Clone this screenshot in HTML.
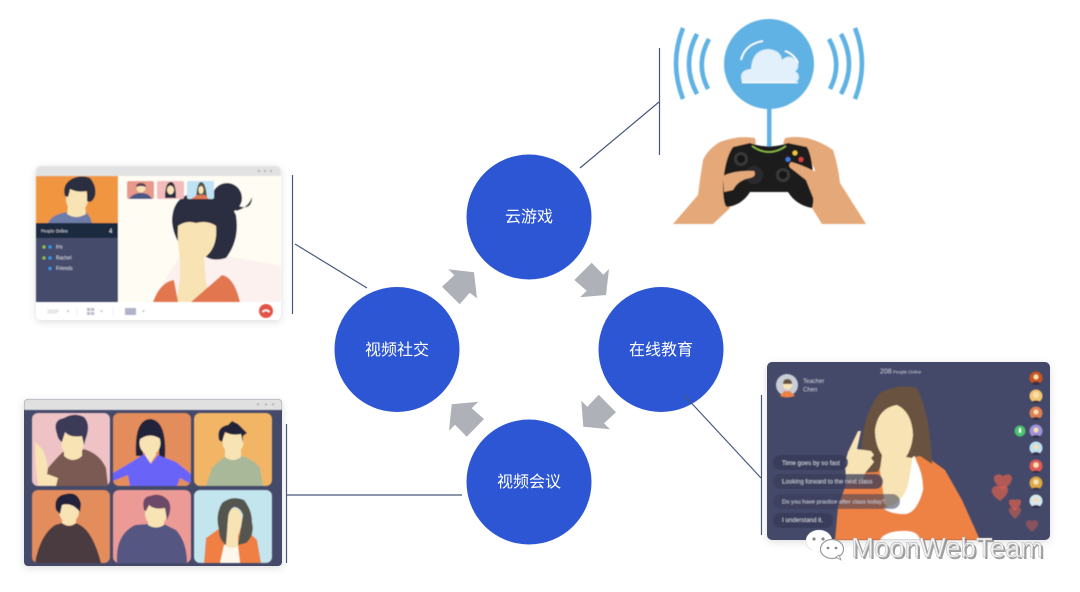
<!DOCTYPE html>
<html lang="zh">
<head>
<meta charset="utf-8">
<title>视频社交 云游戏 在线教育 视频会议</title>
<style>
html,body{margin:0;padding:0;background:#fff;width:1080px;height:592px;overflow:hidden}
svg{display:block}
text{font-family:"Liberation Sans","Noto Sans CJK SC",sans-serif}
.c{font-family:"Liberation Sans","Noto Sans CJK SC",sans-serif;font-size:16px;fill:#fff;text-anchor:middle}
</style>
</head>
<body>
<svg width="1080" height="592" viewBox="0 0 1080 592" xmlns="http://www.w3.org/2000/svg">
<defs>
<filter id="b" x="-5%" y="-5%" width="110%" height="110%"><feGaussianBlur stdDeviation="0.5"/></filter>
<filter id="s" x="-10%" y="-10%" width="120%" height="120%"><feDropShadow dx="0" dy="2" stdDeviation="4" flood-color="#000" flood-opacity=".13"/></filter>
<clipPath id="w1"><rect x="118" y="176" width="163" height="126"/></clipPath>
<clipPath id="w1l"><rect x="36" y="176" width="82" height="47"/></clipPath>
<clipPath id="w3"><rect x="767" y="362" width="283" height="178" rx="5"/></clipPath>
<clipPath id="t1"><rect x="32" y="413" width="78" height="73" rx="6"/></clipPath>
<clipPath id="t2"><rect x="113" y="413" width="78" height="73" rx="6"/></clipPath>
<clipPath id="t3"><rect x="194" y="413" width="78" height="73" rx="6"/></clipPath>
<clipPath id="t4"><rect x="32" y="490" width="78" height="73" rx="6"/></clipPath>
<clipPath id="t5"><rect x="113" y="490" width="78" height="73" rx="6"/></clipPath>
<clipPath id="t6"><rect x="194" y="490" width="78" height="73" rx="6"/></clipPath>
</defs>

<!-- connectors -->
<g fill="none" stroke="#46597c" stroke-width="1.2">
<path d="M292.500 175V314"/>
<path d="M295 244L367 288"/>
<path d="M286.500 424V563"/>
<path d="M287 495H462"/>
<path d="M659.500 48V155"/>
<path d="M580 168L659 102"/>
<path d="M761.500 395V535"/>
</g>

<!-- hub circles -->
<circle cx="529" cy="217" r="62.500" fill="#2c56d3"/>
<circle cx="661" cy="349.500" r="62.500" fill="#2c56d3"/>
<circle cx="529" cy="482" r="62.500" fill="#2c56d3"/>
<circle cx="397" cy="349.500" r="62.500" fill="#2c56d3"/>
<text class="c" x="529" y="222">云游戏</text>
<text class="c" x="661" y="355">在线教育</text>
<text class="c" x="529" y="487">视频会议</text>
<text class="c" x="397" y="355">视频社交</text>
<path d="M684 395L761 478" fill="none" stroke="#46597c" stroke-width="1.200"/>

<!-- arrows -->
<g fill="#aeb1b7">
<polygon points="448.300,269.300 474,272.300 477,298.300 469.700,292.700 459.700,304.300 442,286.700 454.300,275.300"/>
<polygon points="591.700,262.700 603.300,274.700 609,269 606,295 580,297.300 586.700,290.700 574.300,280"/>
<polygon points="598.700,394.700 616,412.300 604,423.300 610,429.300 583.300,426.700 581.300,400.700 587.300,406.700"/>
<polygon points="451.700,404.300 478.300,401.700 471.700,408.300 484,419 466.700,436.700 455,424.700 449,430.700"/>
</g>

<!-- window 1: video social -->
<g filter="url(#s)"><rect x="36" y="166" width="245" height="154" rx="5" fill="#fff"/></g>
<g filter="url(#b)">
<path d="M36 176v-5a5 5 0 0 1 5-5h235a5 5 0 0 1 5 5v5z" fill="#e2e2e2"/>
<g fill="#b5b5b5"><circle cx="259" cy="171" r="1.200"/><circle cx="265" cy="171" r="1.200"/><circle cx="271" cy="171" r="1.200"/></g>
<rect x="36" y="176" width="82" height="47" fill="#f0953f"/>
<rect x="36" y="223" width="82" height="15" fill="#1f2a40"/>
<rect x="36" y="238" width="82" height="64" fill="#454b6b"/>
<rect x="118" y="176" width="163" height="126" fill="#fffcf4"/>
<g clip-path="url(#w1l)">
<path d="M48 223Q52 214 68 212L86 212Q90 216 92 223Z" fill="#6d7ba8"/>
<path d="M68 205H85L86 214Q76 220 67 214Z" fill="#f8e3b4"/>
<ellipse cx="77" cy="199" rx="11" ry="13" fill="#f8e3b4"/>
<path d="M65 196Q62 186 70 180Q80 174 90 178Q97 186 95 196Q92 204 87 201L87 191Q78 193 70 189Q69 194 68 197Z" fill="#2a2d3f"/>
</g>
<text x="41" y="232.500" font-size="4.300" fill="#d9dce6">People Online</text>
<text x="109" y="233" font-size="6" fill="#e8e8ee">4</text>
<g font-size="5" fill="#d9dce6"><text x="56" y="248.500">Iris</text><text x="56" y="259.500">Rachel</text><text x="56" y="270">Friends</text></g>
<g fill="#8fc04a"><circle cx="44" cy="247" r="1.600"/><circle cx="44" cy="258" r="1.600"/></g>
<g fill="#2d9bf0"><circle cx="50" cy="247" r="1.600"/><circle cx="50" cy="258" r="1.600"/><circle cx="50" cy="268.500" r="1.600"/></g>
<g clip-path="url(#w1)">
<polygon points="165,280 185,248 281,266 281,302 160,302" fill="#fcf1ee"/>
<circle cx="227" cy="198" r="15" fill="#2c2d40"/>
<path d="M172 222Q172 196 195 193Q225 190 236 215Q240 240 226 258Q212 262 205 256L213 230Q180 222 181 236L184 248Q174 240 172 222Z" fill="#2c2d40"/>
<path d="M236 205Q252 212 252 197Q248 208 236 211Z" fill="#2c2d40"/>
<path d="M178 226Q186 220 196 223Q208 220 216 226Q218 248 204 258L206 282L212 302H176L180 280V259Q177 240 178 226Z" fill="#f8e3b4"/>
<path d="M153 302Q160 282 174 280L178 302Z" fill="#e27750"/>
<path d="M191 302L222 275Q234 277 240 302Z" fill="#e27750"/>
<rect x="127" y="181" width="27" height="18" rx="2" fill="#e89a8a"/>
<rect x="157" y="181" width="27" height="18" rx="2" fill="#f3bcbc"/>
<rect x="187" y="181" width="27" height="18" rx="2" fill="#bfe3f5"/>
<path d="M129 199Q133 193 141 193Q149 193 152 199Z" fill="#4e5a86"/>
<circle cx="141" cy="188" r="4.500" fill="#f8e3b4"/><path d="M136 187Q136 183 141 183Q146 183 146 187Q141 185 136 187Z" fill="#5b3d56"/>
<path d="M165 198Q165 182 171 182Q176 182 176 198Z" fill="#2c2d40"/><ellipse cx="170.500" cy="190" rx="3.500" ry="4.500" fill="#f8e3b4"/>
<path d="M196 199Q197 182 201 182Q206 182 207 199Z" fill="#54524e"/><ellipse cx="201" cy="190" rx="2.500" ry="4" fill="#f8e3b4"/><path d="M191 199L197 195H205L209 199Z" fill="#e27750"/>
</g>
<text x="47" y="313.500" font-size="5" fill="#bdbdbd">360P</text>
<path d="M66.500 310.500h3l-1.500 2z" fill="#bbb"/>
<g fill="#b9bccb"><rect x="87" y="308" width="3.200" height="3"/><rect x="91" y="308" width="3.200" height="3"/><rect x="87" y="312" width="3.200" height="3"/><rect x="91" y="312" width="3.200" height="3"/></g>
<path d="M100 310.500h3l-1.500 2z" fill="#bbb"/>
<rect x="125" y="308" width="11" height="7" fill="#b0b3c7"/>
<path d="M142 310.500h3l-1.500 2z" fill="#bbb"/>
<path d="M77 307V316M113 307V316" stroke="#f0f0f0"/>
<circle cx="266" cy="311" r="7" fill="#e25344"/>
<path d="M262.500 312Q266 308.500 269.500 312" fill="none" stroke="#fff" stroke-width="1.600"/>
</g>

<!-- window 2: video conference -->
<g filter="url(#s)"><rect x="24" y="399" width="258" height="167" rx="4" fill="#444a6b"/></g>
<g filter="url(#b)">
<path d="M24 410v-7a4 4 0 0 1 4-4h250a4 4 0 0 1 4 4v7z" fill="#e0e0e0"/>
<g fill="#b5b5b5"><circle cx="258" cy="404.500" r="1.200"/><circle cx="266" cy="404.500" r="1.200"/><circle cx="273" cy="404.500" r="1.200"/></g>
<rect x="32" y="413" width="78" height="73" rx="6" fill="#efc3c6"/>
<rect x="113" y="413" width="78" height="73" rx="6" fill="#e38c5c"/>
<rect x="194" y="413" width="78" height="73" rx="6" fill="#f2b565"/>
<rect x="32" y="490" width="78" height="73" rx="6" fill="#e38c5c"/>
<rect x="113" y="490" width="78" height="73" rx="6" fill="#ec9a96"/>
<rect x="194" y="490" width="78" height="73" rx="6" fill="#c2e5ee"/>
<g clip-path="url(#t1)">
<path d="M45 486L48 468Q58 456 66 449Q74 455 84 449Q100 454 106 468L108 486Z" fill="#7a5a52"/>
<path d="M35 442L43 450Q49 464 47 474L58 478L56 486H38Q35 465 35 442Z" fill="#f8e3b4"/>
<path d="M64 448H82V456Q73 464 64 456Z" fill="#f8e3b4"/>
<ellipse cx="72.500" cy="444" rx="11" ry="13.500" fill="#f8e3b4"/>
<path d="M57 434Q52 420 64 418Q74 412 84 417Q91 424 86 438L84 445L82 436Q70 438 65 432L62 442Q58 440 57 434Z" fill="#3a3a58"/>
</g>
<g clip-path="url(#t2)">
<path d="M136 456Q134 420 150 419Q167 420 165 458H159V445H143V456Z" fill="#23243a"/>
<path d="M145 445H156V455L150 464L145 455Z" fill="#f8e3b4"/>
<ellipse cx="150" cy="443" rx="10.500" ry="12" fill="#f8e3b4"/>
<path d="M139 440Q138 423 150 421Q163 423 162 440Q150 431 139 440Z" fill="#23243a"/>
<path d="M113 473L135 460L144 454L151 464L158 455L176 462L191 474V484L180 478L177 486H130L128 475L113 481Z" fill="#6a64f8"/>
</g>
<g clip-path="url(#t3)">
<path d="M206 486L212 468Q222 458 228 455Q234 460 240 455Q255 460 260 468L263 486Z" fill="#a9b898"/>
<path d="M225 448H241V457Q233 463 225 457Z" fill="#f8e3b4"/>
<ellipse cx="233" cy="442" rx="10.500" ry="12" fill="#f8e3b4"/>
<path d="M219 440Q216 427 228 425L232 421L238 424L247 433L243 436L243 443L241 434Q232 436 225 432L222 442Z" fill="#23243a"/>
</g>
<g clip-path="url(#t4)">
<path d="M35 563Q40 535 55 525L62 523Q69 529 76 523L80 525Q93 532 101 563Z" fill="#4a3b40"/>
<path d="M62 516H76V523Q69 528 62 523Z" fill="#f8e3b4"/>
<ellipse cx="69" cy="511" rx="10" ry="12" fill="#f8e3b4"/>
<path d="M56 510Q53 496 66 494Q78 491 81 504L80 512Q72 502 62 505L60 514Z" fill="#23243a"/>
</g>
<g clip-path="url(#t5)">
<path d="M117 563Q115 535 135 525L148 524Q156 530 164 524L176 530Q187 542 187 563Z" fill="#555781"/>
<path d="M148 518H164V525Q156 530 148 525Z" fill="#f8e3b4"/>
<ellipse cx="156" cy="514" rx="11" ry="11.500" fill="#f8e3b4"/>
<path d="M144 510Q141 497 150 496Q160 492 168 500Q173 508 167 520L165 508Q154 510 149 505L146 511Z" fill="#6c4a68"/>
</g>
<g clip-path="url(#t6)">
<path d="M204 563L206 538L220 528H245L257 540L261 563Z" fill="#ef7f42"/>
<path d="M220 563L224 545H238L240 563Z" fill="#fdf8ec"/>
<path d="M219 530Q215 515 222 503Q232 495 244 500Q252 510 252 522Q255 535 246 543L238 545L243 515Q240 507 234 507Q228 510 228 520L226 545Q219 540 219 530Z" fill="#55544f"/>
<path d="M228 520Q229 508 235 508Q242 510 242 520Q240 532 238 536V546Q232 550 226 546Z" fill="#f8e3b4"/>
</g>
</g>

<!-- cloud gaming -->
<g filter="url(#b)">
<g fill="none" stroke="#5fb2e3" stroke-width="4.600">
<path d="M683 28Q669 63 683 99"/><path d="M697 34Q681 64 697 94"/><path d="M709 39Q695 64 708 89"/>
<path d="M855 28Q869 63 855 99"/><path d="M841 34Q857 64 841 94"/><path d="M829 39Q843 64 830 89"/>
</g>
<rect x="767" y="105" width="4.500" height="42" fill="#5fb2e3"/>
<circle cx="769" cy="64" r="45" fill="#5fb2e3"/>
<path d="M742 82Q738 70 751 69Q752 50 768 49Q781 50 782 60Q790 52 798 63Q799 70 795 71Q799 73 799 78Q798 82 793 82Z" fill="#e1f0fa"/>
<path d="M742 82.500H798" stroke="#fff" stroke-width="1.600"/>
<path d="M741 60Q745 44 763 41M785 51Q794 54 798 63" fill="none" stroke="#fff" stroke-width="1.800"/>
<path d="M673 224L698 195Q700 178 703 160Q708 149 720 142Q738 135 755 138L756 144L735 148L726 170L730 208L713 224Z" fill="#e5a878"/>
<path d="M866 224L840 183Q838 165 833 150Q822 142 807 138Q795 136 785 138L783 144L804 148L815 170L812 208L822 224Z" fill="#e5a878"/>
<path d="M750 143Q769 150 788 143L807 147Q814 160 813 190Q814 204 812 208Q796 205 788 192H750Q742 205 727 207Q723 205 723 184Q725 158 733 147Z" fill="#1d1d1f"/>
<path d="M752 146Q769 158 786 146" fill="none" stroke="#8fc04a" stroke-width="1.500"/>
<circle cx="741" cy="159" r="7" fill="#38383a"/><circle cx="741" cy="159" r="4" fill="#171718"/>
<circle cx="783" cy="175" r="7" fill="#38383a"/><circle cx="783" cy="175" r="4" fill="#171718"/>
<circle cx="754" cy="175" r="9" fill="#2b2b2d"/>
<circle cx="795" cy="153" r="2.500" fill="#f2c53d"/><circle cx="788" cy="159.500" r="2.500" fill="#3f78d8"/><circle cx="801" cy="159.500" r="2.500" fill="#d8433a"/>
<path d="M723 176Q735 170 754 171Q757 176 750 178Q738 180 733 190L724 192Z" fill="#e5a878"/>
<path d="M816 172Q800 164 791 162Q787 166 792 169L806 180L814 200Z" fill="#e5a878"/>
</g>

<!-- window 3: online education -->
<g filter="url(#s)"><rect x="767" y="362" width="283" height="178" rx="5" fill="#454a69"/></g>
<g filter="url(#b)">
<g clip-path="url(#w3)">
<path d="M835 540L838 507L850 473L884 466L920 452L945 470L962 500L980 540Z" fill="#ee8244"/>
<path d="M863 435Q866 410 880 393Q900 383 917 388Q928 412 930 440Q932 455 932 464L920 456L912 458H884L878 472L862 473Q860 452 863 435Z" fill="#69523f"/>
<path d="M875 430Q878 408 897 405Q912 412 913 435Q912 448 906 457L912 458L915 456L922 480L916 495Q905 516 893 512L885 505L880 470L882 455Q875 445 875 430Z" fill="#f8e3b4"/>
<path d="M913 456Q923 470 923 490Q917 512 906 514Q890 514 883 508Q902 505 908 485Z" fill="#fff"/>
<path d="M858 431L861 431L857 449L871 451L874 455L871 458L874 462L865 473L863 480L846 480L845 463L848 452Z" fill="#f8e3b4"/>
<path d="M880 540Q885 531 905 531Q918 531 920 540Z" fill="#fff"/>
</g>
<text x="880" y="373.500" font-size="7" fill="#d5d7e2">208</text>
<text x="893" y="373.500" font-size="4.500" fill="#d5d7e2">People Online</text>
<circle cx="787" cy="385" r="11" fill="#c9ced6"/>
<path d="M780 396L784 391H790L795 396Q787 399 780 396Z" fill="#ee8244"/>
<circle cx="787.500" cy="385" r="4.500" fill="#f8e3b4"/><path d="M783 384Q783 379 787.500 379Q792 379 792 384Z" fill="#69523f"/>
<text x="803" y="383" font-size="6" fill="#d5d7e2">Teacher</text>
<text x="803" y="391.500" font-size="6" fill="#d5d7e2">Chen</text>
<rect x="773" y="455" width="75" height="15" rx="7.500" fill="#383c5a" fill-opacity=".9"/>
<rect x="773" y="474" width="110" height="15" rx="7.500" fill="#383c5a" fill-opacity=".75"/>
<rect x="773" y="494" width="127" height="15" rx="7.500" fill="#383c5a" fill-opacity=".55"/>
<rect x="773" y="513" width="60" height="15" rx="7.500" fill="#383c5a" fill-opacity=".9"/>
<g font-size="5.900" fill="#cfd2dd">
<text x="782" y="465" font-size="6.300">Time goes by so fast</text>
<text x="782" y="483.500" font-size="6.200">Looking forward to the next class</text>
<text x="782" y="503.500">Do you have practice after class today?</text>
<text x="782" y="522" font-size="6.200">I understand it.</text>
</g>
<g>
<circle cx="1036" cy="378" r="6.500" fill="#c9561f"/><circle cx="1036" cy="396" r="6.500" fill="#f2c572"/><circle cx="1036" cy="413" r="6.500" fill="#dd7f52"/><circle cx="1036" cy="431" r="6.500" fill="#a092d8"/><circle cx="1036" cy="448" r="6.500" fill="#bfe0ee"/><circle cx="1036" cy="466" r="6.500" fill="#de5c54"/><circle cx="1036" cy="483" r="6.500" fill="#dca744"/><circle cx="1036" cy="501" r="6.500" fill="#d5e8f0"/>
</g>
<g fill="#f6dfb0">
<circle cx="1036" cy="377" r="2.500"/><circle cx="1036" cy="395" r="3"/><circle cx="1036" cy="412" r="2.500"/><circle cx="1036" cy="430" r="2.500"/><circle cx="1036" cy="447" r="2.500"/><circle cx="1036" cy="465" r="2.800"/><circle cx="1036" cy="482" r="2.800"/><circle cx="1036" cy="500" r="2.500"/>
</g>
<g fill="#33324a">
<path d="M1031 384Q1036 379 1041 384Q1036 386 1031 384Z"/><path d="M1031 402Q1036 399 1041 402Q1036 404 1031 402Z"/><path d="M1031 419Q1036 415 1041 419Q1036 421 1031 419Z"/><path d="M1031 437Q1036 433 1041 437Q1036 439 1031 437Z"/><path d="M1031 454Q1036 450 1041 454Q1036 456 1031 454Z"/><path d="M1031 472Q1036 469 1041 472Q1036 474 1031 472Z"/><path d="M1031 489Q1036 486 1041 489Q1036 491 1031 489Z"/><path d="M1031 507Q1036 503 1041 507Q1036 509 1031 507Z"/>
</g>
<circle cx="1020" cy="431" r="5.500" fill="#4ac36f"/>
<rect x="1019" y="428" width="2" height="5" rx="1" fill="#fff"/>
<g fill="#d9604f" fill-opacity=".72">
<path d="M1003 490Q993 483 994 477Q997 472 1003 476Q1009 472 1012 477Q1013 483 1003 490Z"/>
<path d="M1000 501Q990 494 992 489Q995 484 1000 487Q1006 484 1008 489Q1009 494 1000 501Z"/>
<path d="M1015 511Q1008 505 1009 501Q1011 498 1015 500Q1019 498 1021 501Q1022 505 1015 511Z"/>
<path d="M1015 519Q1008 513 1009 509Q1011 506 1015 508Q1019 506 1021 509Q1022 513 1015 519Z" fill-opacity=".55"/>
<path d="M1032 532Q1025 526 1026 522Q1028 519 1032 521Q1036 519 1038 522Q1039 526 1032 532Z" fill-opacity=".45"/>
</g>
</g>

<!-- watermark -->
<g>
<ellipse cx="819" cy="541" rx="13" ry="11" fill="#fff" stroke="#d9d9d9" stroke-width=".6"/>
<path d="M812 550L809 556L818 552Z" fill="#fff"/>
<circle cx="814" cy="539" r="1.600" fill="#8a8a8a"/><circle cx="823" cy="539" r="1.600" fill="#8a8a8a"/>
<ellipse cx="832" cy="549" rx="11.500" ry="9.500" fill="#fff" stroke="#9a9a9a" stroke-width="1.200"/>
<path d="M836 557L841 560L839 555Z" fill="#fff" stroke="#9a9a9a" stroke-width=".8"/>
<circle cx="828" cy="548" r="1.400" fill="#8a8a8a"/><circle cx="836" cy="548" r="1.400" fill="#8a8a8a"/>
<text x="852" y="558" font-size="27.500" fill="#777" opacity=".7" transform="translate(1 1)">MoonWebTeam</text>
<text x="851" y="557" font-size="27.500" fill="#f2f2f2" stroke="#aaa" stroke-width=".4">MoonWebTeam</text>
</g>
</svg>
</body>
</html>
